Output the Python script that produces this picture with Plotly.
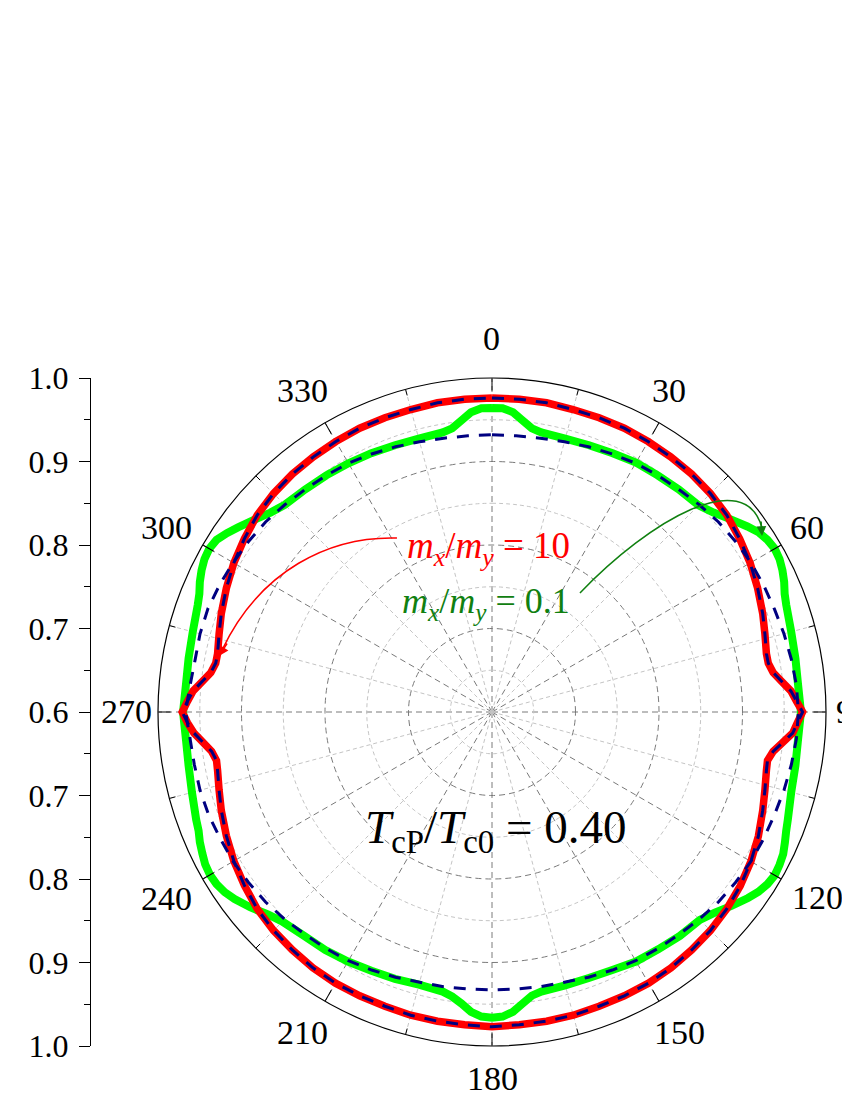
import plotly.graph_objects as go

# ---------------- data ----------------
red_theta = [0, 5, 10, 15, 20, 25, 30, 35, 40, 45, 50, 55, 60, 65, 70, 74, 78, 80, 82, 84, 86, 88, 90,
             92, 94, 96, 98, 100, 102, 106, 110, 115, 120, 125, 130, 135, 140, 145, 150, 155, 160, 165, 170, 175, 180,
             185, 190, 195, 200, 205, 210, 215, 220, 225, 230, 235, 240, 245, 250, 254, 258, 260, 262, 264, 266, 268, 270,
             272, 274, 276, 278, 280, 282, 286, 290, 295, 300, 305, 310, 315, 320, 325, 330, 335, 340, 345, 350, 355, 360]
red_r = [0.976, 0.976, 0.976, 0.975, 0.975, 0.975, 0.974, 0.973, 0.972, 0.970, 0.967, 0.962, 0.957, 0.951, 0.945, 0.940, 0.936, 0.936, 0.940, 0.949, 0.959, 0.965, 0.972,
         0.966, 0.961, 0.950, 0.940, 0.935, 0.936, 0.940, 0.945, 0.952, 0.958, 0.963, 0.967, 0.970, 0.972, 0.974, 0.975, 0.975, 0.975, 0.976, 0.976, 0.976, 0.977,
         0.976, 0.976, 0.976, 0.975, 0.975, 0.975, 0.974, 0.972, 0.970, 0.967, 0.962, 0.957, 0.951, 0.945, 0.940, 0.936, 0.935, 0.939, 0.948, 0.958, 0.965, 0.971,
         0.965, 0.959, 0.949, 0.940, 0.936, 0.936, 0.940, 0.945, 0.951, 0.957, 0.962, 0.967, 0.970, 0.972, 0.973, 0.974, 0.975, 0.975, 0.975, 0.976, 0.976, 0.976]

green_theta = [0, 2, 4, 6, 8, 10, 15, 20, 25, 30, 35, 40, 45, 48, 51, 54, 56, 58, 60, 62, 64, 66, 68, 70, 75, 80, 85, 90,
               95, 100, 105, 110, 112, 114, 116, 118, 120, 122, 124, 126, 129, 132, 135, 140, 145, 150, 155, 160, 165, 170, 172, 174, 176, 178, 180,
               182, 184, 186, 188, 190, 195, 200, 205, 210, 215, 220, 225, 228, 231, 234, 236, 238, 240, 242, 244, 246, 248, 250, 255, 260, 265, 270,
               275, 280, 285, 290, 292, 294, 296, 298, 300, 302, 304, 306, 309, 312, 315, 320, 325, 330, 335, 340, 345, 350, 352, 354, 356, 358, 360]
green_r = [0.964, 0.964, 0.960, 0.951, 0.943, 0.940, 0.939, 0.940, 0.942, 0.945, 0.946, 0.948, 0.950, 0.957, 0.967, 0.978, 0.985, 0.989, 0.991, 0.990, 0.987, 0.983, 0.978, 0.975, 0.971, 0.969, 0.968, 0.970,
           0.968, 0.969, 0.971, 0.977, 0.980, 0.984, 0.988, 0.990, 0.991, 0.989, 0.985, 0.979, 0.969, 0.959, 0.952, 0.950, 0.947, 0.945, 0.941, 0.939, 0.939, 0.940, 0.943, 0.951, 0.960, 0.965, 0.966,
           0.965, 0.960, 0.951, 0.944, 0.940, 0.938, 0.940, 0.942, 0.945, 0.948, 0.950, 0.955, 0.962, 0.972, 0.981, 0.986, 0.989, 0.990, 0.989, 0.986, 0.983, 0.979, 0.977, 0.972, 0.969, 0.968, 0.970,
           0.968, 0.969, 0.971, 0.975, 0.978, 0.983, 0.987, 0.990, 0.991, 0.989, 0.983, 0.976, 0.966, 0.957, 0.951, 0.948, 0.946, 0.944, 0.942, 0.940, 0.939, 0.940, 0.943, 0.951, 0.960, 0.964, 0.964]

navy_theta = [0, 5, 10, 15, 20, 25, 30, 35, 40, 45, 50, 55, 60, 65, 70, 75, 80, 85, 90,
              95, 100, 105, 110, 115, 120, 125, 130, 135, 140, 145, 150, 155, 160, 165, 170, 175, 180,
              185, 190, 195, 200, 205, 210, 215, 220, 225, 230, 235, 240, 245, 250, 255, 260, 265, 270,
              275, 280, 285, 290, 295, 300, 305, 310, 315, 320, 325, 330, 335, 340, 345, 350, 355, 360]
navy_r = [0.932, 0.932, 0.933, 0.935, 0.938, 0.941, 0.944, 0.946, 0.948, 0.951, 0.954, 0.956, 0.958, 0.959, 0.960, 0.962, 0.964, 0.966, 0.967,
          0.966, 0.964, 0.962, 0.960, 0.959, 0.958, 0.956, 0.954, 0.951, 0.948, 0.946, 0.944, 0.941, 0.938, 0.935, 0.934, 0.933, 0.933,
          0.933, 0.934, 0.935, 0.938, 0.941, 0.944, 0.946, 0.948, 0.951, 0.954, 0.956, 0.958, 0.959, 0.961, 0.962, 0.962, 0.963, 0.967,
          0.963, 0.961, 0.962, 0.962, 0.960, 0.958, 0.956, 0.954, 0.951, 0.948, 0.946, 0.944, 0.941, 0.938, 0.935, 0.933, 0.932, 0.932]

# dashed fit that lies on the red curve (read identical to red)
navy2_theta = red_theta
navy2_r = red_r

ang_ticks = [0, 30, 60, 90, 120, 150, 180, 210, 240, 270, 300, 330]
ang_labels = ["0", "30", "60", "90", "120", "150", "180", "210", "240", "270", "300", "330"]
ang_minor = [15, 45, 75, 105, 135, 165, 195, 225, 255, 285, 315, 345]
rad_major = [0.7, 0.8, 0.9]
rad_minor = [0.65, 0.75, 0.85, 0.95]
r_min, r_max = 0.6, 1.0
left_vals = [-0.4, -0.3, -0.2, -0.1, 0.0, 0.1, 0.2, 0.3, 0.4]
left_text = ["1.0", "0.9", "0.8", "0.7", "0.6", "0.7", "0.8", "0.9", "1.0"]
left_minor = [-0.35, -0.25, -0.15, -0.05, 0.05, 0.15, 0.25, 0.35]

# ---------------- layout geometry (page pixels; the page is drawn 8 px in) ----------------
W, H = 850, 1100
OFF = 8
cx, cy, R = 492 - OFF, 712 - OFF, 334
lab_x = [491, 669, 807, 853, 817, 679, 492, 302, 166, 126, 166, 302]
lab_y = [338, 391, 527, 711, 897, 1032, 1078, 1032, 898, 711, 527, 391]
dom_x = [(cx - R) / W, (cx + R) / W]
dom_y = [(H - cy - R) / H, (H - cy + R) / H]
FONT = "Liberation Serif, Times New Roman, serif"


def px(x):
    return (x - OFF) / W


def py(y):
    return 1 - (y - OFF) / H


fig = go.Figure()

# minor grid circles and spokes, minor ticks on the rim
circ_theta = list(range(0, 361, 2))
for rv in rad_minor:
    fig.add_trace(go.Scatterpolar(r=[rv] * len(circ_theta), theta=circ_theta, mode="lines",
                                  line=dict(color="#c4c4c4", width=1, dash="4px,3px"),
                                  hoverinfo="skip", showlegend=False))
for a in ang_minor:
    fig.add_trace(go.Scatterpolar(r=[r_min, r_max], theta=[a, a], mode="lines",
                                  line=dict(color="#c4c4c4", width=1, dash="4px,3px"),
                                  hoverinfo="skip", showlegend=False))
    fig.add_trace(go.Scatterpolar(r=[r_max - 0.0075, r_max], theta=[a, a], mode="lines",
                                  line=dict(color="black", width=1),
                                  hoverinfo="skip", showlegend=False))

# data curves
fig.add_trace(go.Scatterpolar(r=green_r, theta=green_theta, mode="lines",
                              line=dict(color="#00ff00", width=8), name="mx/my=0.1", showlegend=False))
fig.add_trace(go.Scatterpolar(r=red_r, theta=red_theta, mode="lines",
                              line=dict(color="#ff0000", width=7.5), name="mx/my=10", showlegend=False))
fig.add_trace(go.Scatterpolar(r=navy2_r, theta=navy2_theta, mode="lines",
                              line=dict(color="#000080", width=3, dash="12px,10px"), showlegend=False))
fig.add_trace(go.Scatterpolar(r=navy_r, theta=navy_theta, mode="lines",
                              line=dict(color="#000080", width=3, dash="12px,10px"), showlegend=False))

# dummy trace for the left radial scale
fig.add_trace(go.Scatter(x=[0], y=[0], mode="markers", marker=dict(size=1, opacity=0),
                         hoverinfo="skip", showlegend=False, xaxis="x", yaxis="y"))

fig.update_layout(
    width=W, height=H, margin=dict(l=0, r=0, t=0, b=0, autoexpand=False),
    paper_bgcolor="white", plot_bgcolor="white",
    font=dict(family=FONT, size=33, color="black"),
    polar=dict(
        domain=dict(x=dom_x, y=dom_y),
        bgcolor="white",
        angularaxis=dict(rotation=90, direction="clockwise", tickmode="array",
                         tickvals=ang_ticks, showticklabels=False,
                         ticks="inside", ticklen=12, tickcolor="black", tickwidth=1,
                         showline=True, linecolor="black", linewidth=1.2,
                         showgrid=True, gridcolor="#7a7a7a", griddash="6px,4px", gridwidth=1),
        radialaxis=dict(range=[r_min, r_max], tickmode="array", tickvals=rad_major,
                        showticklabels=False, ticks="", showline=False,
                        showgrid=True, gridcolor="#7a7a7a", griddash="6px,4px", gridwidth=1),
    ),
    xaxis=dict(domain=[px(91), 0.15], visible=False, range=[0, 1]),
    yaxis=dict(domain=dom_y, range=[-0.4, 0.4], anchor="x", side="left", automargin=False,
               tickmode="array", tickvals=left_vals, ticktext=left_text,
               ticks="outside", ticklen=11, tickcolor="black", tickwidth=1,
               showline=True, linecolor="black", linewidth=1, showgrid=False, zeroline=False,
               minor=dict(tickvals=left_minor, ticks="outside", ticklen=6,
                          tickcolor="black", tickwidth=1, showgrid=False),
               tickfont=dict(family=FONT, size=32, color="black"), ticklabelstandoff=4),
)

# angular tick labels just outside the rim
for lab, lx, ly in zip(ang_labels, lab_x, lab_y):
    fig.add_annotation(x=px(lx), y=py(ly), xref="paper", yref="paper", xanchor="center", yanchor="middle",
                       text=lab, showarrow=False, font=dict(family=FONT, size=34, color="black"))

# curved pointer lines
fig.add_shape(type="path", xref="paper", yref="paper",
              path="M {:.4f},{:.4f} C {:.4f},{:.4f} {:.4f},{:.4f} {:.4f},{:.4f}".format(
                  px(397), py(538), px(330), py(536), px(260), py(570), px(222), py(650)),
              line=dict(color="#ff0000", width=1.5))
fig.add_shape(type="path", xref="paper", yref="paper",
              path="M {:.4f},{:.4f} C {:.4f},{:.4f} {:.4f},{:.4f} {:.4f},{:.4f}".format(
                  px(580), py(593), px(650), py(520), px(745), py(465), px(762), py(528)),
              line=dict(color="#108010", width=1.5))

fig.add_annotation(x=px(219), y=py(656), xref="paper", yref="paper", text="", showarrow=True,
                   ax=9, ay=-14, arrowhead=2, arrowsize=1.3, arrowwidth=1.5, arrowcolor="#ff0000")
fig.add_annotation(x=px(762), y=py(536), xref="paper", yref="paper", text="", showarrow=True,
                   ax=-1, ay=-16, arrowhead=2, arrowsize=1.3, arrowwidth=1.5, arrowcolor="#108010")

fig.add_annotation(x=px(405), y=py(548), xref="paper", yref="paper", xanchor="left", yanchor="middle",
                   text="<i>m</i><sub><i>x</i></sub>/<i>m</i><sub><i>y</i></sub> = 10", showarrow=False,
                   font=dict(family=FONT, size=37, color="#ff0000"))
fig.add_annotation(x=px(400), y=py(603), xref="paper", yref="paper", xanchor="left", yanchor="middle",
                   text="<i>m</i><sub><i>x</i></sub>/<i>m</i><sub><i>y</i></sub> = 0.1", showarrow=False,
                   font=dict(family=FONT, size=36, color="#108010"))
fig.add_annotation(x=px(496), y=py(830), xref="paper", yref="paper", xanchor="center", yanchor="middle",
                   text="<i>T</i><sub>cP</sub>/<i>T</i><sub>c0</sub> = 0.40", showarrow=False,
                   font=dict(family=FONT, size=47, color="black"))

fig.write_html("out.html")
